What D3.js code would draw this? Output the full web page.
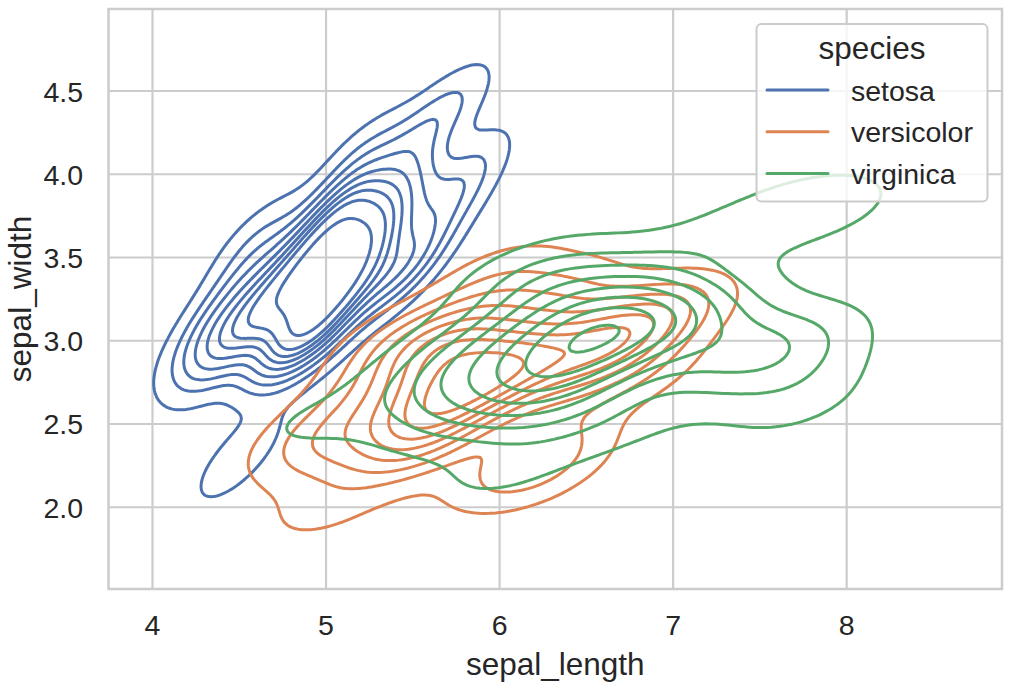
<!DOCTYPE html>
<html>
<head>
<meta charset="utf-8">
<script src="https://cdn.jsdelivr.net/npm/d3@7"></script>
<style>
  body { margin: 0; background: #fff; }
  text { font-family: "Liberation Sans", Arial, sans-serif; fill: #262626; }
</style>
</head>
<body>
<svg id="chart" width="1022" height="690"></svg>
<script>
// iris data: sepal length / sepal width per species
var setosaLength = [5.1,4.9,4.7,4.6,5.0,5.4,4.6,5.0,4.4,4.9,5.4,4.8,4.8,4.3,5.8,5.7,5.4,5.1,5.7,5.1,5.4,5.1,4.6,5.1,4.8,5.0,5.0,5.2,5.2,4.7,4.8,5.4,5.2,5.5,4.9,5.0,5.5,4.9,4.4,5.1,5.0,4.5,4.4,5.0,5.1,4.8,5.1,4.6,5.3,5.0];
var setosaWidth  = [3.5,3.0,3.2,3.1,3.6,3.9,3.4,3.4,2.9,3.1,3.7,3.4,3.0,3.0,4.0,4.4,3.9,3.5,3.8,3.8,3.4,3.7,3.6,3.3,3.4,3.0,3.4,3.5,3.4,3.2,3.1,3.4,4.1,4.2,3.1,3.2,3.5,3.6,3.0,3.4,3.5,2.3,3.2,3.5,3.8,3.0,3.8,3.2,3.7,3.3];
var versicolorLength = [7.0,6.4,6.9,5.5,6.5,5.7,6.3,4.9,6.6,5.2,5.0,5.9,6.0,6.1,5.6,6.7,5.6,5.8,6.2,5.6,5.9,6.1,6.3,6.1,6.4,6.6,6.8,6.7,6.0,5.7,5.5,5.5,5.8,6.0,5.4,6.0,6.7,6.3,5.6,5.5,5.5,6.1,5.8,5.0,5.6,5.7,5.7,6.2,5.1,5.7];
var versicolorWidth  = [3.2,3.2,3.1,2.3,2.8,2.8,3.3,2.4,2.9,2.7,2.0,3.0,2.2,2.9,2.9,3.1,3.0,2.7,2.2,2.5,3.2,2.8,2.5,2.8,2.9,3.0,2.8,3.0,2.9,2.6,2.4,2.4,2.7,2.7,3.0,3.4,3.1,2.3,3.0,2.5,2.6,3.0,2.6,2.3,2.7,3.0,2.9,2.9,2.5,2.8];
var virginicaLength = [6.3,5.8,7.1,6.3,6.5,7.6,4.9,7.3,6.7,7.2,6.5,6.4,6.8,5.7,5.8,6.4,6.5,7.7,7.7,6.0,6.9,5.6,7.7,6.3,6.7,7.2,6.2,6.1,6.4,7.2,7.4,7.9,6.4,6.3,6.1,7.7,6.3,6.4,6.0,6.9,6.7,6.9,5.8,6.8,6.7,6.7,6.3,6.5,6.2,5.9];
var virginicaWidth  = [3.3,2.7,3.0,2.9,3.0,3.0,2.5,2.9,2.5,3.6,3.2,2.7,3.0,2.5,2.8,3.2,3.0,3.8,2.6,2.2,3.2,2.8,2.8,2.7,3.3,3.2,2.8,3.0,2.8,3.0,2.8,3.8,2.8,2.8,2.6,3.0,3.4,3.1,3.0,3.1,3.1,3.1,2.7,3.2,3.3,3.0,2.5,3.0,3.4,3.0];

var speciesNames = ["setosa", "versicolor", "virginica"];
var speciesColors = ["#4c72b0", "#dd8452", "#55a868"];
var xTicks = [4, 5, 6, 7, 8];
var yTicks = [2.0, 2.5, 3.0, 3.5, 4.0, 4.5];

var margin = {top: 9, right: 20, bottom: 101, left: 108.5};
var width = 1022, height = 690;

var svg = d3.select("#chart");

var x = d3.scaleLinear().domain([3.7465, 8.895]).range([margin.left, width - margin.right]);
var y = d3.scaleLinear().domain([1.509, 4.9925]).range([height - margin.bottom, margin.top]);

// gaussian kde, scott bandwidth, same as scipy
var gridSize = 200;
function kdeGrid(xs, ys) {
    var n = xs.length;
    var mx = d3.mean(xs), my = d3.mean(ys);
    var sxx = 0, syy = 0, sxy = 0;
    for (var i = 0; i < n; i++) {
        sxx += (xs[i] - mx) * (xs[i] - mx);
        syy += (ys[i] - my) * (ys[i] - my);
        sxy += (xs[i] - mx) * (ys[i] - my);
    }
    var f = Math.pow(n, -1 / 6);
    var cxx = sxx / (n - 1) * f * f, cyy = syy / (n - 1) * f * f, cxy = sxy / (n - 1) * f * f;
    var det = cxx * cyy - cxy * cxy;
    var ixx = cyy / det, iyy = cxx / det, ixy = -cxy / det;
    var norm = 1 / (2 * Math.PI * Math.sqrt(det) * n);
    var bx = Math.sqrt(cxx), by = Math.sqrt(cyy);
    var x0 = d3.min(xs) - 3 * bx, x1 = d3.max(xs) + 3 * bx;
    var y0 = d3.min(ys) - 3 * by, y1 = d3.max(ys) + 3 * by;
    var dx = (x1 - x0) / (gridSize - 1), dy = (y1 - y0) / (gridSize - 1);
    var values = new Float64Array(gridSize * gridSize);
    for (var j = 0; j < gridSize; j++) {
        var gy = y0 + j * dy;
        for (var k = 0; k < gridSize; k++) {
            var gx = x0 + k * dx, s = 0;
            for (var p = 0; p < n; p++) {
                var ex = gx - xs[p], ey = gy - ys[p];
                s += Math.exp(-0.5 * (ex * ex * ixx + 2 * ex * ey * ixy + ey * ey * iyy));
            }
            values[j * gridSize + k] = s * norm / 3; // common_norm, 3 equal groups
        }
    }
    return {values: values, x0: x0, y0: y0, dx: dx, dy: dy};
}

var grids = [
    kdeGrid(setosaLength, setosaWidth),
    kdeGrid(versicolorLength, versicolorWidth),
    kdeGrid(virginicaLength, virginicaWidth)
];

// iso-proportion levels shared by all groups
var all = [];
grids.forEach(function (g) { for (var i = 0; i < g.values.length; i++) all.push(g.values[i]); });
all.sort(function (a, b) { return b - a; });
var total = d3.sum(all), cum = new Float64Array(all.length), acc = 0;
for (var i = 0; i < all.length; i++) { acc += all[i]; cum[i] = acc / total; }
var levels = [];
for (var q = 0; q < 9; q++) {
    var iso = 0.05 + q * (0.95 / 9);
    var idx = d3.bisectLeft(cum, 1 - iso);
    levels.push(all[Math.min(idx, all.length - 1)]);
}

// grid lines
svg.append("g").selectAll("line").data(xTicks).enter().append("line")
    .attr("x1", function (d) { return x(d); }).attr("x2", function (d) { return x(d); })
    .attr("y1", margin.top).attr("y2", height - margin.bottom)
    .attr("stroke", "#cccccc").attr("stroke-width", 2.2);
svg.append("g").selectAll("line").data(yTicks).enter().append("line")
    .attr("y1", function (d) { return y(d); }).attr("y2", function (d) { return y(d); })
    .attr("x1", margin.left).attr("x2", width - margin.right)
    .attr("stroke", "#cccccc").attr("stroke-width", 2.2);

svg.append("clipPath").attr("id", "clip").append("rect")
    .attr("x", margin.left).attr("y", margin.top)
    .attr("width", width - margin.right - margin.left)
    .attr("height", height - margin.bottom - margin.top);

var plot = svg.append("g").attr("clip-path", "url(#clip)");

grids.forEach(function (g, si) {
    var proj = d3.geoTransform({
        point: function (cx, cy) {
            this.stream.point(x(g.x0 + (cx - 0.5) * g.dx), y(g.y0 + (cy - 0.5) * g.dy));
        }
    });
    var path = d3.geoPath(proj);
    var contours = d3.contours().size([gridSize, gridSize]).thresholds(levels)(g.values);
    plot.append("g").selectAll("path").data(contours).enter().append("path")
        .attr("d", path)
        .attr("fill", "none")
        .attr("stroke", speciesColors[si])
        .attr("stroke-width", 3)
        .attr("stroke-linejoin", "round");
});

// frame
svg.append("rect")
    .attr("x", margin.left).attr("y", margin.top)
    .attr("width", width - margin.right - margin.left)
    .attr("height", height - margin.bottom - margin.top)
    .attr("fill", "none").attr("stroke", "#cccccc").attr("stroke-width", 2.5);

// tick labels
svg.append("g").selectAll("text").data(xTicks).enter().append("text")
    .attr("x", function (d) { return x(d); }).attr("y", 635)
    .attr("text-anchor", "middle").style("font-size", "28.5px")
    .text(function (d) { return d; });
svg.append("g").selectAll("text").data(yTicks).enter().append("text")
    .attr("x", 83).attr("y", function (d) { return y(d) + 10.5; })
    .attr("text-anchor", "end").style("font-size", "28.5px")
    .text(d3.format(".1f"));

svg.append("text").attr("x", (margin.left + width - margin.right) / 2).attr("y", 675)
    .attr("text-anchor", "middle").style("font-size", "31.5px").text("sepal_length");
svg.append("text").attr("transform", "translate(31," + (margin.top + height - margin.bottom) / 2 + ")rotate(-90)")
    .attr("text-anchor", "middle").style("font-size", "31.5px").text("sepal_width");

// legend
var legend = svg.append("g");
legend.append("rect")
    .attr("x", 756.5).attr("y", 24).attr("width", 231).attr("height", 177.5)
    .attr("rx", 5)
    .attr("fill", "rgba(255,255,255,0.8)").attr("stroke", "#cccccc").attr("stroke-width", 2);
legend.append("text").attr("x", 872).attr("y", 59)
    .attr("text-anchor", "middle").style("font-size", "31.5px").text("species");
speciesNames.forEach(function (name, i) {
    var ly = 90 + i * 41.7;
    legend.append("line").attr("x1", 767).attr("x2", 828).attr("y1", ly).attr("y2", ly)
        .attr("stroke", speciesColors[i]).attr("stroke-width", 3).attr("stroke-linecap", "round");
    legend.append("text").attr("x", 851).attr("y", ly + 10.5)
        .style("font-size", "28.5px").text(name);
});
</script>
</body>
</html>
